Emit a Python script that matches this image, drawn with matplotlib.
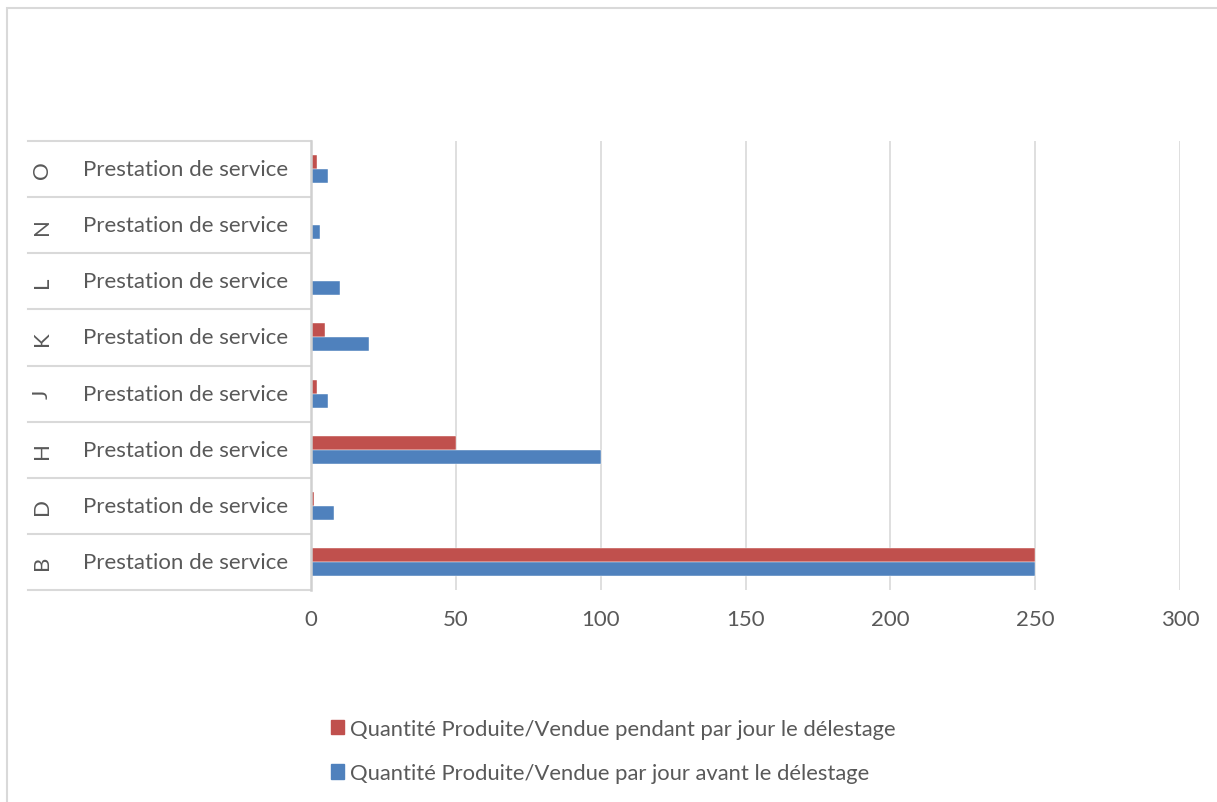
import matplotlib.pyplot as plt
from matplotlib.patches import Patch, Rectangle
from matplotlib.transforms import blended_transform_factory
import numpy as np

# categories, bottom to top
letters = ["B", "D", "H", "J", "K", "L", "N", "O"]
activity = ["Prestation de service"] * 8
# quantities per day
pendant = [250, 1, 50, 2, 5, 0, 0, 2]
avant = [250, 8, 100, 6, 20, 10, 3, 6]

label_pendant = "Quantité Produite/Vendue pendant par jour le délestage"
label_avant = "Quantité Produite/Vendue par jour avant le délestage"

red = "#C0504D"
blue = "#4F81BD"
txt = "#595959"
grid = "#D9D9D9"
fs = 16

plt.rcParams['font.family'] = ['Lato', 'DejaVu Sans']

W, H = 1217, 803
fig = plt.figure(figsize=(W / 100, H / 100), dpi=100)
ax = fig.add_axes([311 / W, 1 - 591 / H, (1180 - 311) / W, (591 - 142) / H])

y = np.arange(len(letters))
bh = 0.25
ax.barh(y + bh / 2, pendant, height=bh, color=red, edgecolor="white", linewidth=0.3)
ax.barh(y - bh / 2, avant, height=bh, color=blue, edgecolor="white", linewidth=0.3)

ax.set_xlim(0, 300)
ax.set_ylim(-0.5, len(letters) - 0.5)
ax.set_xticks(np.arange(0, 301, 50))
ax.set_yticks([])
ax.tick_params(axis="x", length=0, pad=14, labelsize=fs, labelcolor=txt)
ax.grid(axis="x", color=grid, linewidth=1.2)
ax.set_axisbelow(True)
for s in ["top", "right", "bottom"]:
    ax.spines[s].set_visible(False)
ax.spines["left"].set_color("#D0D0D0")
ax.spines["left"].set_linewidth(1.8)

# two-level category labels on the left
tr = blended_transform_factory(fig.transFigure, ax.transData)
for i in range(len(letters)):
    ax.text(42 / W, y[i], letters[i], transform=tr, rotation=90,
            ha="center", va="center", fontsize=fs, color=txt)
    ax.text(186 / W, y[i], activity[i], transform=tr,
            ha="center", va="center", fontsize=fs, color=txt)
for b in np.arange(-0.5, len(letters), 1.0):
    ax.plot([28 / W, 311 / W], [b, b], transform=tr, color=grid,
            linewidth=1.5, clip_on=False)

# outer chart frame
fig.patches.append(Rectangle((7 / W, -0.05), 1.1, 1 - 9 / H + 0.05,
                             transform=fig.transFigure, fill=False,
                             edgecolor="#D9D9D9", linewidth=1.5))

handles = [Patch(color=red), Patch(color=blue)]
fig.legend(handles, [label_pendant, label_avant], loc="center left",
           bbox_to_anchor=(311 / W, 1 - 752 / H), frameon=False,
           fontsize=15.8, labelcolor=txt, handlelength=0.62, handleheight=0.62,
           handletextpad=0.25, labelspacing=1.12)

fig.savefig("out.png", dpi=100, facecolor="white")
